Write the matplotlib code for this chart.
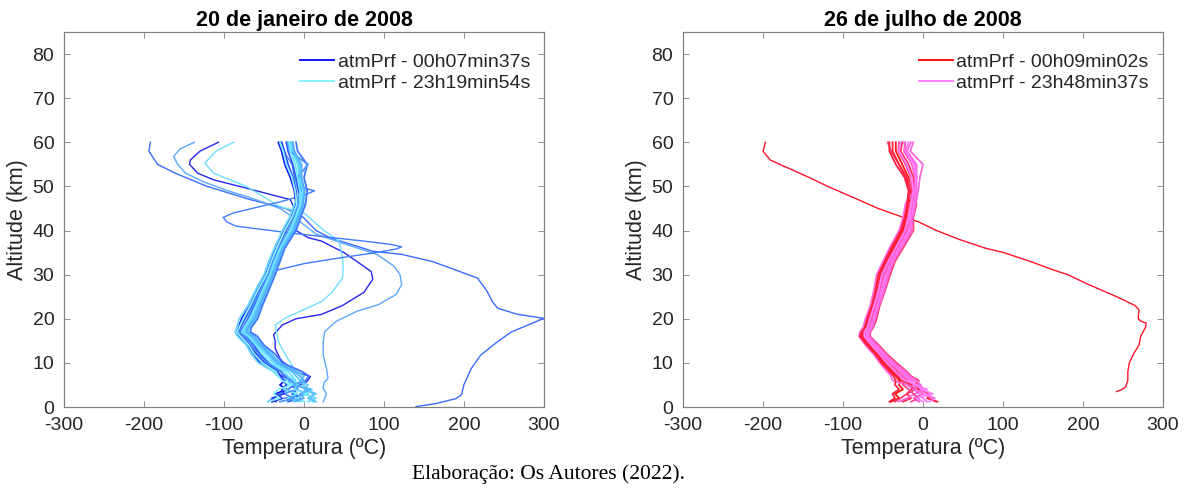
import matplotlib
matplotlib.use("Agg")
import matplotlib.pyplot as plt

plt.rcParams["font.family"] = ["Liberation Sans", "DejaVu Sans"]
plt.rcParams["axes.unicode_minus"] = False

# ---------------- data ----------------
# common altitude levels (km) for the clustered profiles
ALT = [1.2, 2, 3, 4, 5, 6, 7, 8, 10, 12, 14, 16, 17, 18, 20, 23, 26, 30,
       33, 36, 40, 43, 46, 49, 52, 55, 58, 60]

# 20 de janeiro de 2008 - temperature (C) per level, one row per profile
JAN_BUNDLE = [
    [-40, -28, -35, -22, -30, -24, -28, -36, -55, -63, -70, -80, -85, -82, -78, -68, -60, -48, -42, -35, -25, -16, -10, -12, -17, -24, -28, -32],
    [12, 5, 15, 2, 0, -5, 0, -8, -30, -40, -52, -61, -70, -68, -60, -54, -47, -38, -32, -26, -12, -6, 0, -6, -14, -20, -26, -30],
    [-20, -5, -15, -8, -18, -12, -25, -28, -45, -55, -62, -72, -80, -76, -70, -62, -54, -44, -38, -31, -19, -12, -6, -7, -10, -14, -20, -22],
    [5, 15, 0, 10, -10, -20, -33, -38, -57, -66, -72, -83, -86, -84, -81, -70, -62, -50, -44, -37, -27, -18, -12, -4, -6, -5, -14, -15],
    [-45, -38, -30, -20, -12, 2, 6, -2, -27, -36, -50, -58, -67, -66, -58, -52, -45, -36, -30, -24, -10, -4, 2, 4, 0, 4, -8, -10],
    [-5, -20, -8, -25, -20, -10, -15, -20, -38, -48, -58, -68, -76, -74, -66, -59, -52, -42, -35, -29, -16, -9, -3, -2, -6, -8, -15, -17],
    [-30, -12, -25, -10, -5, -18, -22, -30, -48, -58, -65, -75, -82, -79, -73, -64, -56, -46, -40, -33, -22, -14, -8, -4, -8, 5, -18, -20],
    [15, 8, 12, 0, 5, -5, -10, -15, -35, -45, -56, -66, -74, -72, -64, -57, -50, -40, -34, -27, -14, -8, -2, 0, -4, -6, -13, -15],
    [-35, -40, -25, -28, -22, -25, -30, -33, -50, -60, -68, -78, -84, -80, -75, -66, -58, -47, -41, -34, -23, -15, -9, -10, -14, -20, -25, -28],
    [0, -10, 5, -12, -8, -12, -20, -24, -42, -52, -60, -70, -78, -75, -68, -60, -53, -43, -37, -30, -18, -11, -5, -5, -8, -11, -17, -19],
    [-12, 0, -5, 8, -15, 0, -5, -12, -32, -43, -54, -63, -72, -70, -62, -55, -48, -39, -33, -27, -13, -7, -1, 1, -3, -3, -12, -14],
    [-45, -30, -38, -32, -15, -28, -32, -35, -52, -62, -69, -79, -84, -81, -76, -67, -59, -47, -41, -34, -24, -15, -9, -11, -15, -22, -26, -30],
]
JAN_COLORS = ["#1414ff", "#5ac8ff", "#2f5cff", "#6ad8ff", "#3d78ff", "#66e0ff",
              "#4a90ff", "#5cc4ff", "#2a40f5", "#70e6ff", "#52b0ff", "#88f0ff"]

# outlying January profiles (altitude km, temperature C)
JAN_A_ALT = [60, 58, 55, 53, 50, 47, 45, 43, 40, 38.4, 35.3, 34.6, 33, 31.5, 29.2,
             26.2, 24, 22.4, 21, 20.1, 19.8, 17, 14.8, 11.8, 8.7, 5.1, 2.8, 1.9, 0.75, 0.1]
JAN_A_TMP = [-192, -194, -183, -161, -121, -67, -23, -1, 15, 32, 86, 122, 160, 183, 217,
             229, 235, 242, 267, 300, 296, 259, 242, 221, 209, 200, 197, 190, 164, 140]

JAN_B_ALT = [60, 58.5, 56.8, 55, 53, 51, 49, 47.5, 45, 42, 39.2, 37, 34.6, 32, 30, 27.7,
             25.5, 23.2, 21.7, 19.4, 17.1, 14.8, 11.8, 8.8, 6.5, 5.5, 4.2, 3, 2, 1.2]
JAN_B_TMP = [-137, -155, -163, -158, -148, -125, -95, -68, -30, -5, 15, 50, 91, 112, 120, 122,
             115, 93, 66, 40, 26, 24, 24, 28, 30, 25, 24, 28, 26, 24]

JAN_C_ALT = [60, 58, 56, 55, 53, 51.5, 49.6, 47, 45, 43, 41, 40, 38.4, 37.6, 35, 33, 30.7,
             29, 26, 23, 21, 20, 18.6, 16.4, 15, 13.3, 11, 10.3, 8, 6.9, 5.8, 5]
JAN_C_TMP = [-107, -130, -142, -143, -133, -113, -72, -17, -12, -14, -12, -10, 5, 22, 50, 66, 84,
             86, 75, 48, 22, -10, -27, -38, -36, -36, -30, -27, -10, 8, 4, -5]

JAN_D_ALT = [60, 58, 55.3, 53, 50, 45.4, 44, 40, 37.6, 34, 31.5, 29.2, 26, 23.9, 20.2,
             18.6, 14.8, 11.8, 8, 7]
JAN_D_TMP = [-88, -110, -124, -113, -72, -30, 0, 25, 44, 48, 49, 48, 35, 22, -23,
             -36, -32, -23, -10, -5]

JAN_E_ALT = [60, 57, 55, 52, 50, 49, 48, 46.5, 45, 44, 43, 42, 41, 40.6, 39.5, 38.5, 37.5,
             36.8, 36.3, 35.8, 35, 33.8, 32.5, 30.8, 30, 26, 23, 20, 18, 17, 16, 14, 12,
             10, 8, 6, 4, 3, 2, 1.2]
JAN_E_TMP = [-28, -22, -15, -12, -8, 13, 0, -30, -65, -88, -101, -97, -85, -68, -20, 30, 80,
             110, 122, 115, 90, 45, 0, -39, -45, -52, -60, -68, -76, -80, -76, -65, -55,
             -42, -30, -20, -10, 5, -25, -40]

# 26 de julho de 2008
JUL_BUNDLE = [
    [-40, -30, -35, -25, -30, -28, -32, -38, -48, -57, -67, -76, -75, -71, -68, -62, -58, -53, -46, -37, -25, -21, -18, -15, -18, -26, -34, -34],
    [15, 10, 5, 0, -5, -12, -20, -25, -38, -49, -58, -69, -69, -64, -61, -56, -51, -45, -38, -29, -16, -14, -10, -8, -8, -8, -20, -15],
    [-25, -15, -20, -10, -18, -20, -27, -32, -44, -53, -63, -72, -72, -68, -65, -60, -55, -50, -42, -33, -21, -18, -15, -12, -12, -18, -28, -26],
    [5, 0, -5, -12, -20, -38, -40, -45, -54, -62, -72, -80, -79, -75, -72, -66, -62, -58, -50, -42, -30, -25, -22, -12, -8, -10, -20, -24],
    [-35, -28, -20, -15, -10, -5, -15, -20, -33, -45, -55, -66, -66, -62, -58, -54, -48, -41, -35, -25, -12, -12, -8, -14, -20, -30, -40, -44],
    [-5, -12, 0, -8, -15, -16, -24, -29, -41, -51, -61, -71, -70, -66, -63, -58, -54, -48, -40, -31, -19, -16, -13, -10, -10, -14, -24, -22],
    [18, 5, 10, -5, -10, -30, -34, -40, -50, -59, -69, -78, -76, -72, -69, -63, -59, -55, -47, -39, -27, -22, -19, -17, -21, -30, -38, -38],
    [-30, -20, -10, 0, -3, -8, -17, -22, -36, -47, -57, -67, -67, -63, -60, -55, -49, -43, -37, -27, -14, -13, -9, -6, -4, 0, -16, -12],
    [-15, -5, -12, -18, -25, -24, -30, -35, -46, -55, -65, -74, -74, -70, -67, -61, -57, -52, -44, -35, -23, -19, -16, -13, -15, -22, -31, -30],
    [8, 15, 0, 5, -12, -14, -22, -27, -39, -50, -60, -70, -70, -65, -62, -57, -52, -46, -39, -30, -17, -15, -11, -9, -9, -11, -22, -18],
    [-42, -35, -38, -30, -35, -34, -37, -42, -52, -60, -70, -79, -77, -73, -70, -64, -60, -56, -48, -40, -28, -23, -20, -18, -23, -34, -42, -42],
    [0, -8, 12, -2, -8, -22, -28, -34, -45, -54, -64, -73, -73, -69, -66, -61, -56, -51, -43, -34, -22, -18, -15, -12, -14, -20, -30, -28],
]
JUL_COLORS = ["#ff1010", "#ff66e0", "#ff2a50", "#ff70f0", "#ff3a70", "#ff5ccc",
              "#ff1e3c", "#ff66dd", "#ff4a90", "#ff74f4", "#ff2244", "#ff80ff"]

JUL_A_ALT = [60, 58, 56, 55, 52, 50, 47, 45, 43, 42, 40, 38, 36, 35, 33, 31, 30, 28, 25,
             23, 22, 20, 19.5, 19, 18, 16, 14, 12, 10, 8, 6, 4.5, 4, 3.5]
JUL_A_TMP = [-197, -200, -191, -179, -142, -119, -81, -56, -25, -6, 17, 45, 78, 101, 134,
             164, 181, 204, 242, 265, 270, 269, 272, 279, 278, 272, 270, 263, 258, 256,
             256, 253, 249, 242]

TITLES = ["20 de janeiro de 2008", "26 de julho de 2008"]
LEGENDS = [["atmPrf - 00h07min37s", "atmPrf - 23h19min54s"],
           ["atmPrf - 00h09min02s", "atmPrf - 23h48min37s"]]
X_TICKS = [-300, -200, -100, 0, 100, 200, 300]
Y_TICKS = [0, 10, 20, 30, 40, 50, 60, 70, 80]

# ---------------- figure ----------------
W, H = 1188, 497
fig = plt.figure(figsize=(W / 100, H / 100), dpi=100)

ax_w = 480 / W
ax_h = 375 / H
ax_b = (H - 407) / H
ax1 = fig.add_axes([64 / W, ax_b, ax_w, ax_h])
ax2 = fig.add_axes([683 / W, ax_b, ax_w, ax_h])

jan_out = [(JAN_A_TMP, JAN_A_ALT, "#3a6cff"), (JAN_B_TMP, JAN_B_ALT, "#5aa8ff"),
           (JAN_C_TMP, JAN_C_ALT, "#2626ee"), (JAN_D_TMP, JAN_D_ALT, "#70e0ff"),
           (JAN_E_TMP, JAN_E_ALT, "#3f7cff")]
jul_out = [(JUL_A_TMP, JUL_A_ALT, "#ff1428")]

axis_grey = "#808080"
txt = "#262626"


def draw_panel(ax, bundle, colors, outliers, title, labels):
    for t, a, c in outliers:
        ax.plot(t, a, color=c, lw=1.0)
    n = len(bundle)
    for i, (prof, c) in enumerate(zip(bundle, colors)):
        lab = labels[0] if i == 0 else (labels[1] if i == n - 1 else None)
        ax.plot(prof, ALT, color=c, lw=1.3, label=lab)

    ax.set_xlim(-300, 300)
    ax.set_ylim(0, 85)
    ax.set_xticks(X_TICKS)
    ax.set_yticks(Y_TICKS)
    ax.tick_params(direction="in", top=True, right=True, length=4,
                   width=0.6, color=axis_grey, labelcolor=txt,
                   labelsize=14, pad=7)
    for s in ax.spines.values():
        s.set_color(axis_grey)
        s.set_linewidth(0.9)

    ax.set_title(title, fontsize=15.5, fontweight="bold", pad=4)
    ax.set_xlabel("Temperatura (ºC)", fontsize=15.5, color=txt, labelpad=3)
    ax.set_ylabel("Altitude (km)", fontsize=15.5, color=txt, labelpad=3)

    h, l = ax.get_legend_handles_labels()
    leg = ax.legend(h, l, loc="upper right", bbox_to_anchor=(0.995, 0.975),
                    frameon=False, fontsize=14, handlelength=1.75,
                    handletextpad=0.2, labelspacing=0.2, borderaxespad=0.2)
    for t in leg.get_texts():
        t.set_color(txt)
    for ln in leg.get_lines():
        ln.set_linewidth(1.4)


draw_panel(ax1, JAN_BUNDLE, JAN_COLORS, jan_out, TITLES[0], LEGENDS[0])
draw_panel(ax2, JUL_BUNDLE, JUL_COLORS, jul_out, TITLES[1], LEGENDS[1])

fig.text(548 / W, 1 - 474 / H, "Elaboração: Os Autores (2022).",
         family="Liberation Serif", fontsize=15.5, ha="center", va="center")

fig.savefig("out.png", dpi=100)
